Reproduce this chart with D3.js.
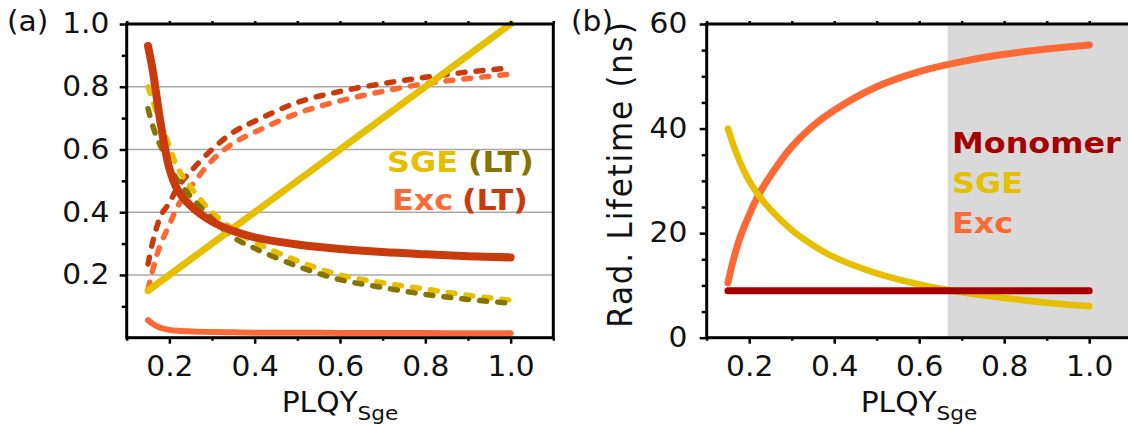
<!DOCTYPE html>
<html>
<head>
<meta charset="utf-8">
<script src="https://cdn.jsdelivr.net/npm/d3@7"></script>
<style>
body{margin:0;background:#fff;}
svg text{font-family:"DejaVu Sans",Verdana,sans-serif;}
</style>
</head>
<body>
<div id="chart"></div>
<script>
// ---- data ----
var plqy = [0.15,0.16,0.17,0.18,0.2,0.22,0.25,0.3,0.35,0.4,0.5,0.6,0.7,0.8,0.9,1.0];

// panel (a): fractions
var sgeX = [0.15, 1.0];
var sgeY = [0.15, 1.0];
var excLtSolid = [0.93,0.86,0.77,0.68,0.54,0.47,0.42,0.37,0.34,0.32,0.297,0.283,0.273,0.266,0.26,0.256];
var excSolid   = [0.056,0.045,0.037,0.031,0.025,0.022,0.02,0.018,0.017,0.016,0.016,0.015,0.015,0.015,0.014,0.014];
var excLtDash  = [0.235,0.3,0.35,0.39,0.43,0.48,0.53,0.6,0.655,0.69,0.75,0.785,0.81,0.83,0.847,0.86];
var excDash    = [0.155,0.21,0.26,0.3,0.36,0.42,0.48,0.565,0.62,0.655,0.715,0.755,0.785,0.81,0.826,0.84];
var sgeDash    = [0.8,0.76,0.72,0.685,0.61,0.54,0.48,0.4,0.345,0.305,0.245,0.2,0.175,0.155,0.135,0.12];
var sgeLtDash  = [0.73,0.68,0.64,0.61,0.55,0.5,0.45,0.38,0.32,0.285,0.228,0.185,0.16,0.138,0.122,0.11];

// panel (b): radiative lifetimes (ns)
var monoX   = [0.15, 1.0];
var monoTau = [9, 9];
var sgeTau  = [40,37.5,35.3,33.3,30,27.5,24.5,20.6,17.7,15.4,12.3,10.2,8.7,7.6,6.7,6.0];
var excTau  = [10.5,14,17,19.5,23.5,27,31,36.5,40.5,43.5,48,50.9,52.8,54.2,55.2,56];
var shadeFrom = 0.667, shadeTo = 1.1;

// ticks
var xMajor = [0.2,0.4,0.6,0.8,1.0];
var xMinor = [0.1,0.3,0.5,0.7,0.9,1.1];
var yMajorA = [0.2,0.4,0.6,0.8,1.0];
var yMinorA = [0.1,0.3,0.5,0.7,0.9];
var yMajorB = [0,20,40,60];
var yMinorB = [5,10,15,25,30,35,45,50,55];

var C = {yellow:"#e6bf00", olive:"#877400", orange:"#fd6935", rust:"#c93a0c", mono:"#a50000"};
var FS = 27.5, STRETCH = "scale(1.08,1)";

var svg = d3.select("#chart").append("svg").attr("width",1128).attr("height",428);

var xA = d3.scaleLinear().domain([0.1,1.1]).range([126.7,553.3]);
var yA = d3.scaleLinear().domain([0,1]).range([337.7,24]);
var xB = d3.scaleLinear().domain([0.1,1.1]).range([706.7,1131.7]);
var yB = d3.scaleLinear().domain([0,60]).range([337.7,24]);

//---------------------------------------------------------------------
function label(x, y, txt, opts){
    opts = opts || {};
    var t = svg.append("text")
        .attr("transform","translate("+x+","+y+") "+(opts.rot ? "scale(1.08,1) rotate(-90)" : (opts.sx || STRETCH)))
        .attr("font-size", opts.size || FS)
        .attr("font-weight", opts.bold ? "bold" : "normal")
        .attr("letter-spacing", opts.ls || 0)
        .attr("fill", opts.fill || "#111")
        .attr("text-anchor", opts.anchor || "start")
        .text(txt);
    return t;
}
//---------------------------------------------------------------------
function axes(x, y, yMaj, yMin, fmt, yPad){
    var b = y.range()[0], t = y.range()[1];
    // bottom
    svg.append("g").attr("transform","translate(0,"+b+")")
        .call(d3.axisBottom(x).tickValues(xMinor).tickSize(3).tickSizeOuter(0).tickFormat(""));
    svg.append("g").attr("class","lab").attr("transform","translate(0,"+b+")")
        .call(d3.axisBottom(x).tickValues(xMajor).tickSize(6).tickSizeOuter(0).tickPadding(13).tickFormat(d3.format(".1f")));
    // top (small ticks)
    svg.append("g").attr("transform","translate(0,"+t+")")
        .call(d3.axisTop(x).tickValues(xMajor.concat(xMinor)).tickSize(3).tickSizeOuter(0).tickFormat(""));
    // left
    var l = x.range()[0];
    svg.append("g").attr("transform","translate("+l+",0)")
        .call(d3.axisLeft(y).tickValues(yMin).tickSize(5).tickSizeOuter(0).tickFormat(""));
    svg.append("g").attr("class","lab").attr("transform","translate("+l+",0)")
        .call(d3.axisLeft(y).tickValues(yMaj).tickSize(7).tickSizeOuter(0).tickPadding(yPad).tickFormat(fmt));
    svg.selectAll("g.lab text").attr("font-size",FS).attr("font-family","DejaVu Sans").attr("fill","#111")
        .attr("transform",STRETCH);
    svg.selectAll(".domain").remove();
    svg.selectAll(".tick line").attr("stroke","#000").attr("stroke-width",2.5);
    // frame
    svg.append("rect").attr("x",l).attr("y",t)
        .attr("width",x.range()[1]-l).attr("height",b-t)
        .attr("fill","none").attr("stroke","#000").attr("stroke-width",3);
}
//---------------------------------------------------------------------
function curve(x, y, xs, ys, color, w, dash){
    var line = d3.line().x(function(d){return x(d[0]);}).y(function(d){return y(d[1]);})
        .curve(d3.curveCatmullRom.alpha(0.5));
    svg.append("path").datum(d3.zip(xs, ys))
        .attr("d", line).attr("fill","none")
        .attr("stroke", color).attr("stroke-width", w)
        .attr("stroke-linecap","round")
        .attr("stroke-dasharray", dash ? "7,11" : null);
}

// ---- panel (a) ----
svg.append("g").selectAll("line").data(yMajorA.slice(0,4)).join("line")
    .attr("x1",xA.range()[0]).attr("x2",xA.range()[1])
    .attr("y1",function(d){return yA(d);}).attr("y2",function(d){return yA(d);})
    .attr("stroke","#a8a8a8").attr("stroke-width",1.6);

curve(xA, yA, plqy, excDash,   C.orange, 5.5, true);
curve(xA, yA, plqy, excLtDash, C.rust,   5.5, true);
curve(xA, yA, plqy, sgeDash,   C.yellow, 5.5, true);
curve(xA, yA, plqy, sgeLtDash, C.olive,  5.5, true);
curve(xA, yA, plqy, excSolid,  C.orange, 6);
curve(xA, yA, sgeX, sgeY,      C.yellow, 7);
curve(xA, yA, plqy, excLtSolid, C.rust,  8);

axes(xA, yA, yMajorA, yMinorA, d3.format(".1f"), 9);

var LEG = {bold:true, size:29, sx:"scale(1.1,1)"};
label(387, 171.7, "SGE", Object.assign({fill:C.yellow}, LEG));
label(468, 171.7, "(LT)", Object.assign({fill:C.olive}, LEG));
label(392, 210, "Exc", Object.assign({fill:C.orange}, LEG));
label(462, 210, "(LT)", Object.assign({fill:C.rust}, LEG));
label(7, 31, "(a)");

// ---- panel (b) ----
svg.append("rect").attr("x",xB(shadeFrom)).attr("y",yB(60))
    .attr("width",xB(shadeTo)-xB(shadeFrom)).attr("height",yB(0)-yB(60))
    .attr("fill","#d9d9d9");

curve(xB, yB, plqy, excTau,  C.orange, 7);
curve(xB, yB, plqy, sgeTau,  C.yellow, 6.5);
curve(xB, yB, monoX, monoTau, C.mono, 7);

axes(xB, yB, yMajorB, yMinorB, d3.format("d"), 11);

label(952, 153.3, "Monomer", Object.assign({fill:C.mono}, LEG));
label(952, 193.3, "SGE", Object.assign({fill:C.yellow}, LEG));
label(952, 233.3, "Exc", Object.assign({fill:C.orange}, LEG));
label(571, 31, "(b)");
label(632, 174, "Rad. Lifetime (ns)", {rot:true, anchor:"middle", size:31, ls:1.8});

// x titles with subscript
[[xA, 340],[xB, 919]].forEach(function(p){
    var t = label(p[1], 411.7, "", {anchor:"middle"});
    t.append("tspan").text("PLQY");
    t.append("tspan").attr("font-size",20).attr("dy",8).text("Sge");
});
</script>
</body>
</html>
